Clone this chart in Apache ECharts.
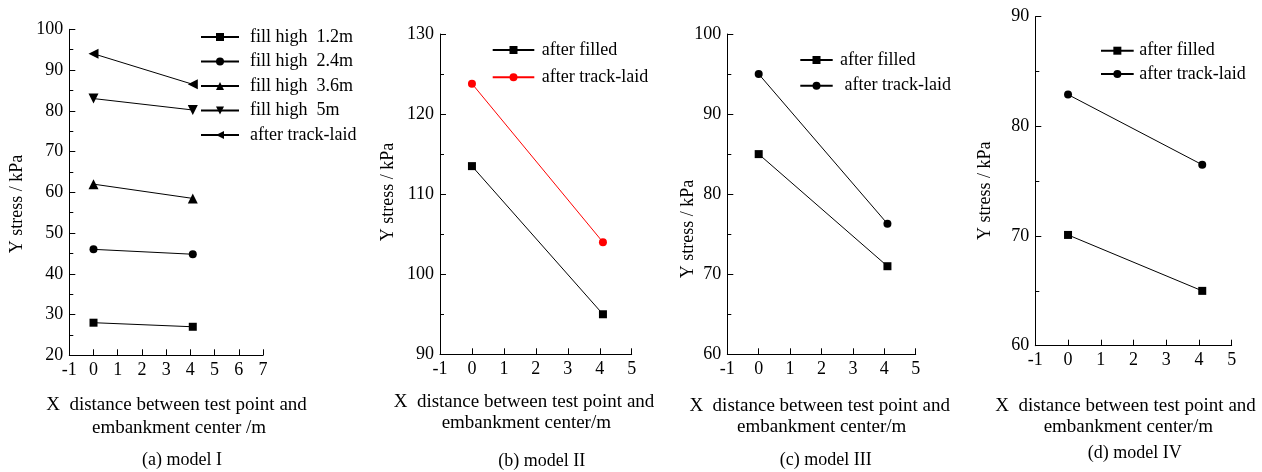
<!DOCTYPE html>
<html>
<head>
<meta charset="utf-8">
<title>Y stress vs distance from embankment center</title>
<script src="https://cdn.jsdelivr.net/npm/echarts@6/dist/echarts.min.js"></script>
<style>
  html, body { margin: 0; padding: 0; background: #fff; }
  .panel { position: absolute; left: 0; top: 0; width: 1262px; height: 472px; }
</style>
</head>
<body>
<div id="pa" class="panel"></div>
<div id="pb" class="panel"></div>
<div id="pc" class="panel"></div>
<div id="pd" class="panel"></div>
<script>
// Measuring positions: distance from embankment center (m)
const xPoints = [0, 4.1];

// Model I — Y stress (kPa) at each fill height and after track laying
const m1Names = ['fill high  1.2m', 'fill high  2.4m', 'fill high  3.6m', 'fill high  5m', 'after track-laid'];
const m1Fill12 = [28, 27];
const m1Fill24 = [46, 44.8];
const m1Fill36 = [62, 58.5];
const m1Fill50 = [83, 80.2];
const m1Track = [94, 86.5];

// Model II
const m2Names = ['after filled', 'after track-laid'];
const m2Filled = [113.5, 95];
const m2Track = [123.8, 104];

// Model III
const m3Names = ['after filled', ' after track-laid'];
const m3Filled = [85, 71];
const m3Track = [95, 76.3];

// Model IV
const m4Names = ['after filled', 'after track-laid'];
const m4Filled = [70.1, 65];
const m4Track = [82.9, 76.5];

// Text
const yTitle = 'Y stress / kPa';
const xTitleLine1 = 'X  distance between test point and';
const xTitleLine2a = 'embankment center /m';
const xTitleLine2 = 'embankment center/m';
const captions = ['(a) model I', '(b) model II', '(c) model III', '(d) model IV'];

const FONT = '"Liberation Serif", "Times New Roman", serif';
const INK = '#000';

function xAxisCfg(max) {
  return {
    type: 'value', min: -1, max: max, interval: 1,
    axisLine: { show: true, onZero: false, lineStyle: { color: INK, width: 1 } },
    axisTick: { show: true, inside: true, length: 6, lineStyle: { color: INK, width: 1 } },
    axisLabel: { color: INK, fontFamily: FONT, fontSize: 18, margin: 6 },
    splitLine: { show: false }
  };
}

function yAxisCfg(min, max) {
  return {
    type: 'value', min: min, max: max, interval: 10,
    axisLine: { show: true, onZero: false, lineStyle: { color: INK, width: 1 } },
    axisTick: { show: true, inside: true, length: 6, lineStyle: { color: INK, width: 1 } },
    minorTick: { show: true, splitNumber: 2, length: 4, lineStyle: { color: INK, width: 1 } },
    axisLabel: { color: INK, fontFamily: FONT, fontSize: 18, margin: 6 },
    splitLine: { show: false },
    minorSplitLine: { show: false }
  };
}

function lineSeries(name, values, symbol, size, color, rotate) {
  return {
    type: 'line', name: name,
    data: xPoints.map((x, i) => [x, values[i]]),
    symbol: symbol, symbolSize: size, symbolRotate: rotate || 0,
    showSymbol: true,
    lineStyle: { color: color, width: 1 },
    itemStyle: { color: color },
    emphasis: { disabled: true },
    animation: false
  };
}

function legendCfg(names, left, top, itemWidth, gap, pad) {
  return {
    orient: 'vertical', left: left, top: top, padding: 0,
    itemWidth: itemWidth, itemHeight: 10, itemGap: gap,
    selectedMode: false,
    data: names,
    textStyle: { fontFamily: FONT, fontSize: 18, color: INK, padding: [0, 0, 0, pad] }
  };
}

function textEl(str, x, y, size, rotate) {
  return {
    type: 'text', x: x, y: y, rotation: rotate ? Math.PI / 2 : 0,
    silent: true,
    style: {
      text: str, x: 0, y: 0,
      font: size + 'px ' + FONT, fill: INK,
      align: 'center', verticalAlign: 'middle',
      textAlign: 'center', textVerticalAlign: 'middle'
    }
  };
}

function titles(yt, l1, l2, cap) {
  return [
    textEl(yTitle, yt[0], yt[1], 18, true),
    textEl(xTitleLine1, l1[0], l1[1], 19),
    textEl(l2[2], l2[0], l2[1], 19),
    textEl(cap[2], cap[0], cap[1], 18)
  ];
}

// (a) model I
echarts.init(document.getElementById('pa'), null, { renderer: 'canvas' }).setOption({
  backgroundColor: 'transparent',
  animation: false,
  grid: { left: 69.3, top: 29.3, width: 193.7, height: 326 },
  xAxis: xAxisCfg(7),
  yAxis: yAxisCfg(20, 100),
  legend: legendCfg(m1Names, 200, 28, 38, 6.5, 6),
  series: [
    lineSeries(m1Names[0], m1Fill12, 'rect', 8, INK),
    lineSeries(m1Names[1], m1Fill24, 'circle', 8, INK),
    lineSeries(m1Names[2], m1Fill36, 'triangle', 10, INK),
    lineSeries(m1Names[3], m1Fill50, 'triangle', 10, INK, 180),
    lineSeries(m1Names[4], m1Track, 'triangle', 10, INK, 90)
  ],
  graphic: titles([17, 204], [176.5, 405], [179, 428, xTitleLine2a], [182, 460.7, captions[0]])
});

// (b) model II
echarts.init(document.getElementById('pb'), null, { renderer: 'canvas' }).setOption({
  backgroundColor: 'transparent',
  animation: false,
  grid: { left: 440, top: 34, width: 191.7, height: 320.3 },
  xAxis: xAxisCfg(5),
  yAxis: yAxisCfg(90, 130),
  legend: legendCfg(m2Names, 491.7, 41, 41.6, 9.3, 2.4),
  series: [
    lineSeries(m2Names[0], m2Filled, 'rect', 8, INK),
    lineSeries(m2Names[1], m2Track, 'circle', 8, '#ff0000')
  ],
  graphic: titles([388, 192], [524, 401.7], [526.3, 423.3, xTitleLine2], [541.7, 461, captions[1]])
});

// (c) model III
echarts.init(document.getElementById('pc'), null, { renderer: 'canvas' }).setOption({
  backgroundColor: 'transparent',
  animation: false,
  grid: { left: 727.3, top: 34, width: 188.4, height: 320.3 },
  xAxis: xAxisCfg(5),
  yAxis: yAxisCfg(60, 100),
  legend: legendCfg(m3Names, 799.3, 51, 32.4, 7.7, 2.3),
  series: [
    lineSeries(m3Names[0], m3Filled, 'rect', 8, INK),
    lineSeries(m3Names[1], m3Track, 'circle', 8, INK)
  ],
  graphic: titles([688, 229], [819.7, 406], [821.7, 427.3, xTitleLine2], [825.8, 460.7, captions[2]])
});

// (d) model IV
echarts.init(document.getElementById('pd'), null, { renderer: 'canvas' }).setOption({
  backgroundColor: 'transparent',
  animation: false,
  grid: { left: 1035.3, top: 16.7, width: 196.4, height: 329 },
  xAxis: xAxisCfg(5),
  yAxis: yAxisCfg(60, 90),
  legend: legendCfg(m4Names, 1100, 41.7, 32.7, 5.3, 0.6),
  series: [
    lineSeries(m4Names[0], m4Filled, 'rect', 8, INK),
    lineSeries(m4Names[1], m4Track, 'circle', 8, INK)
  ],
  graphic: titles([985, 190.7], [1125.5, 406], [1128.3, 426.7, xTitleLine2], [1134.7, 453.3, captions[3]])
});
</script>
</body>
</html>
